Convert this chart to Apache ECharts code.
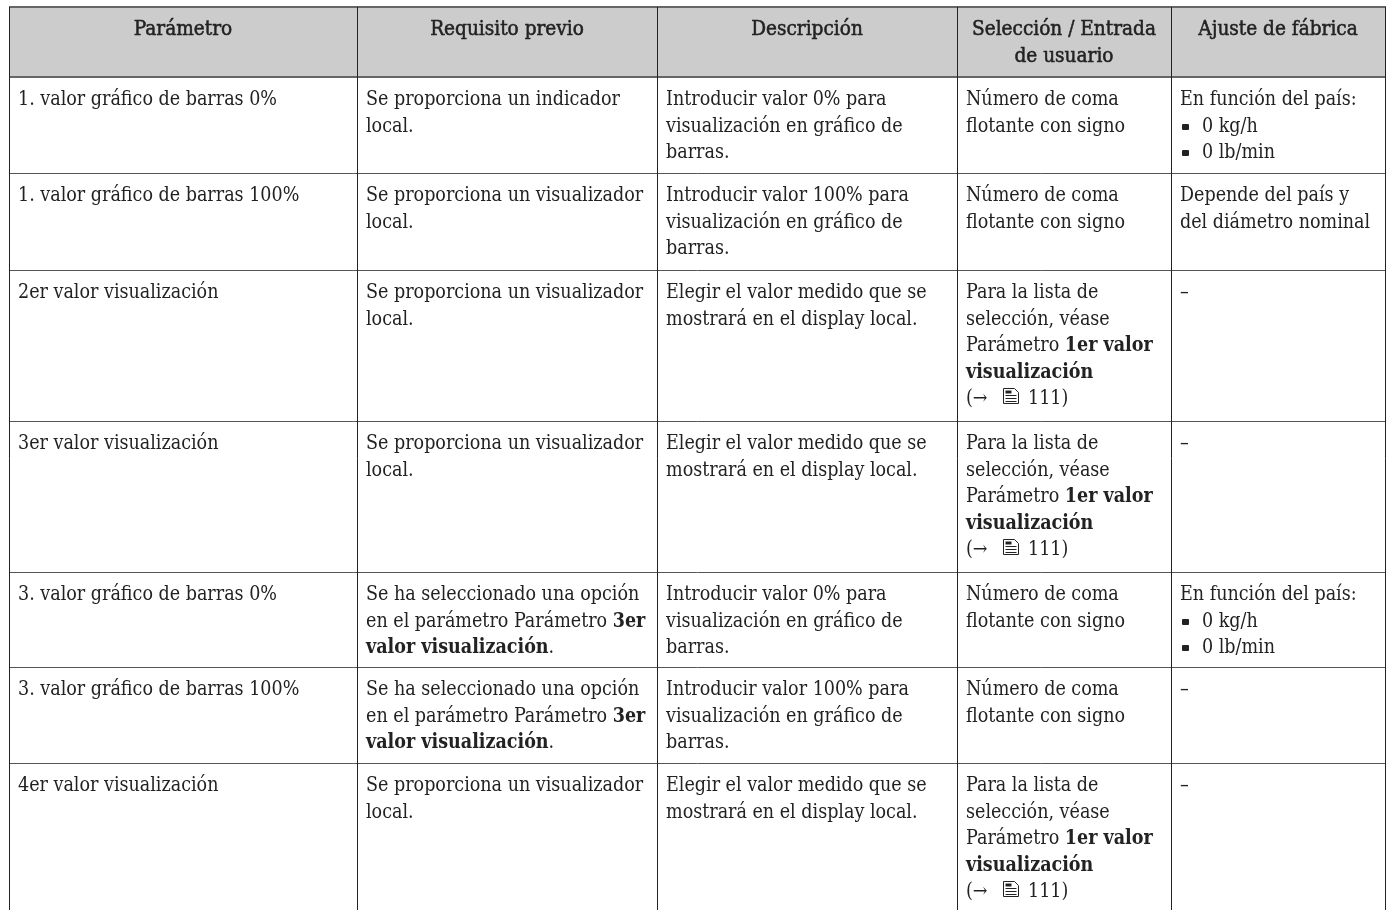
<!DOCTYPE html>
<html><head><meta charset="utf-8">
<style>html,body{margin:0;padding:0;background:#fff}#c{width:1387px;height:910px}</style>
<script src="https://cdn.jsdelivr.net/npm/echarts@6/dist/echarts.min.js"></script>
</head><body><div id="c"></div>
<script>
const headers = [["Parámetro"],["Requisito previo"],["Descripción"],["Selección / Entrada","de usuario"],["Ajuste de fábrica"]];
const parametro = ["1. valor gráfico de barras 0%","1. valor gráfico de barras 100%","2er valor visualización","3er valor visualización","3. valor gráfico de barras 0%","3. valor gráfico de barras 100%","4er valor visualización"];
const indic = ["Se proporciona un visualizador","local."];
const sel = ["Se ha seleccionado una opción","en el parámetro Parámetro {b|3er}","{b|valor visualización}."];
const requisito = [["Se proporciona un indicador","local."],indic,indic,indic,sel,sel,indic];
const d0 = ["Introducir valor 0% para","visualización en gráfico de","barras."];
const d100 = ["Introducir valor 100% para","visualización en gráfico de","barras."];
const dSel = ["Elegir el valor medido que se","mostrará en el display local."];
const descripcion = [d0,d100,dSel,dSel,d0,d100,dSel];
const num = ["Número de coma","flotante con signo"];
const lista = ["Para la lista de","selección, véase","Parámetro {b|1er valor}","{b|visualización}","(→ @ 111)"];
const seleccion = [num,num,lista,lista,num,num,lista];
const pais = ["En función del país:","# 0 kg/h","# 0 lb/min"];
const ajuste = [pais,["Depende del país y","del diámetro nominal"],["–"],["–"],pais,["–"],["–"]];

const colEdges = [9,357,657,957,1171,1385];
const rowEdges = [7,77,173,270,421,572,667,763,910];
const FONT = '"DejaVu Serif Condensed"';
const SIZE = 19.5, HEAD_SIZE = 20.6, PITCH = 26.5, INK = '#222', HEAD = '#cccccc', RULE = '#555';

const columns = [parametro,requisito,descripcion,seleccion,ajuste];
const cells = [];
headers.forEach((h,c)=>cells.push({c,r:0,lines:h,head:true}));
columns.forEach((col,c)=>col.forEach((lines,r)=>cells.push({c,r:r+1,lines:Array.isArray(lines)?lines:[lines]})));

function renderItem(params, api){
  const cell = cells[params.dataIndex];
  const [x0,y0] = api.coord([colEdges[cell.c],rowEdges[cell.r]]);
  const [x1,y1] = api.coord([colEdges[cell.c+1],rowEdges[cell.r+1]]);
  const kids = [];
  kids.push({type:'rect',shape:{x:x0,y:y0,width:x1-x0,height:y1-y0},style:{fill:cell.head?HEAD:'#fff',stroke:null}});
  cell.lines.forEach((ln,i)=>{
    const yc = Math.round(y0 + 23 + i*PITCH);
    let tx = cell.head ? (x0+x1)/2 : x0+9;
    let text = ln;
    if(text.startsWith('# ')){
      kids.push({type:'rect',shape:{x:tx+2,y:yc-3,width:7,height:6,r:1},style:{fill:INK}});
      tx += 22; text = text.slice(2);
    }
    const rich = {b:{fontFamily:FONT,fontSize:SIZE,fontWeight:'bold',fill:INK}};
    if(text.includes('@')){
      const a = text.split('@');
      kids.push(tt(tx,yc,a[0],rich,'left'));
      const ix = tx+37.5, iy = yc-10.5;
      kids.push({type:'path',shape:{pathData:`M${ix} ${iy}H${ix+11}L${ix+15} ${iy+4}V${iy+15}H${ix}Z`},style:{fill:'none',stroke:INK,lineWidth:1}});
      kids.push({type:'rect',shape:{x:ix+2,y:iy+2,width:6,height:3},style:{fill:INK}});
      [7,10,13].forEach(d=>kids.push({type:'line',shape:{x1:ix+2,y1:iy+d,x2:ix+13,y2:iy+d},style:{stroke:INK,lineWidth:1}}));
      kids.push(tt(tx+62,yc,a[1].trim(),rich,'left'));
    } else {
      kids.push(tt(tx,yc,text,rich,cell.head?'center':'left',cell.head));
    }
  });
  return {type:'group',children:kids};
}
function tt(x,y,text,rich,align,head){
  const s = {text,rich,fontFamily:FONT,fontSize:head?HEAD_SIZE:SIZE,fontWeight:'normal',fill:INK,align,verticalAlign:'middle'};
  if(head){ s.stroke = INK; s.lineWidth = 0.5; }
  return {type:'text',x,y,style:s};
}
function ruleItem(params, api){
  const d = rules[params.dataIndex];
  const a = api.coord([d[0],d[1]]), b = api.coord([d[2],d[3]]);
  return {type:'line',shape:{x1:a[0],y1:a[1],x2:b[0],y2:b[1]},style:{stroke:d[5],lineWidth:d[4]}};
}
const rules = [];
rowEdges.slice(0,-1).forEach((y,i)=>{
  const off = i<2 ? 0 : 0.5;
  rules.push([9,y+off,1386,y+off,i<2?2:1,i<2?'#666':RULE]);
});
colEdges.forEach(x=>rules.push([x+0.5,7,x+0.5,910,1,'#222']));

const chart = echarts.init(document.getElementById('c'));
chart.setOption({
  animation:false,
  grid:{left:0,right:0,top:0,bottom:0},
  xAxis:{type:'value',min:0,max:1387,show:false},
  yAxis:{type:'value',min:0,max:910,inverse:true,show:false},
  series:[
    {type:'custom',renderItem,data:cells.map((_,i)=>[i]),encode:{x:0,y:0},clip:false,silent:true,z:1},
    {type:'custom',renderItem:ruleItem,data:rules.map((_,i)=>[i]),encode:{x:0,y:0},clip:false,silent:true,z:2}
  ]
});
</script></body></html>
